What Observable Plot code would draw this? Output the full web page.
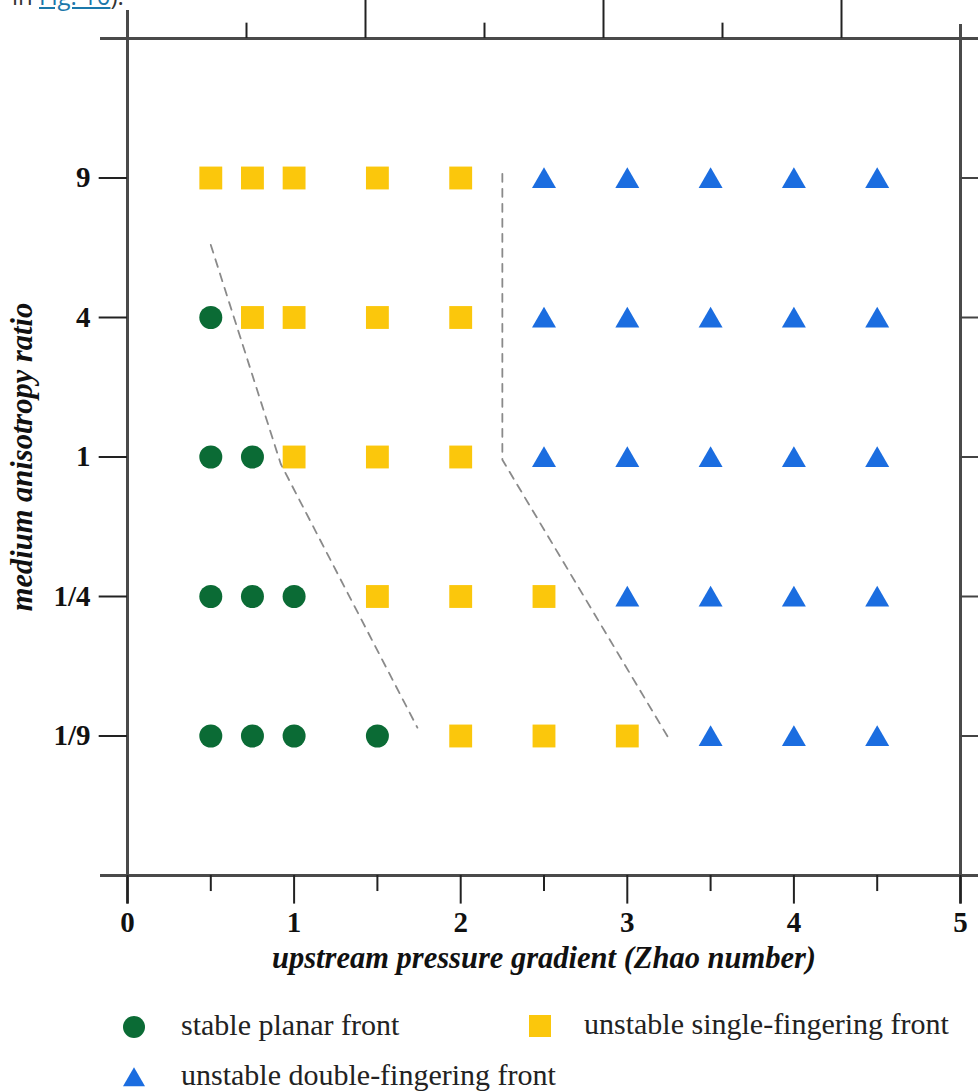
<!DOCTYPE html>
<html>
<head>
<meta charset="utf-8">
<script src="https://cdn.jsdelivr.net/npm/d3@7"></script>
<script src="https://cdn.jsdelivr.net/npm/@observablehq/plot@0.6"></script>
<style>
  html, body { margin: 0; padding: 0; background: #fff; }
  #wrap { position: relative; width: 978px; height: 1091px; overflow: hidden; }
  #topnote { position: absolute; left: 12px; top: -16px; font-family: "Open Sans", sans-serif; font-size: 24px; line-height: 24px; color: #333; white-space: nowrap; }
  #topnote a { color: #1b78ab; text-decoration: underline; }
  #chart { position: absolute; left: 0; top: 0; }
  .leg { position: absolute; font-family: "Liberation Serif", "Times New Roman", serif; font-size: 30px; color: #222; line-height: 30px; white-space: nowrap; }
  .sym { position: absolute; }
</style>
</head>
<body>
<div id="wrap">
  <div id="chart"></div>
  <div id="topnote">in <a>Fig. 10</a>).</div>
  <div id="legend"></div>
</div>
<script>
// ---- data ----
const ratioLabels = ["1/9", "1/4", "1", "4", "9"];          // bottom to top
const xTicks = [0, 1, 2, 3, 4, 5];
const xMinorTicks = [0.5, 1.5, 2.5, 3.5, 4.5];
const stableZhao = {"1/9": [0.5, 0.75, 1, 1.5], "1/4": [0.5, 0.75, 1], "1": [0.5, 0.75], "4": [0.5], "9": []};
const singleZhao = {"1/9": [2, 2.5, 3], "1/4": [1.5, 2, 2.5], "1": [1, 1.5, 2], "4": [0.75, 1, 1.5, 2], "9": [0.5, 0.75, 1, 1.5, 2]};
const doubleZhao = {"1/9": [3.5, 4, 4.5], "1/4": [3, 3.5, 4, 4.5], "1": [2.5, 3, 3.5, 4, 4.5], "4": [2.5, 3, 3.5, 4, 4.5], "9": [2.5, 3, 3.5, 4, 4.5]};
const boundary1Zhao = [0.5, 0.92, 1.74];
const boundary1Level = [4.52, 2.95, 1.06];
const boundary2Zhao = [2.25, 2.25, 3.25];
const boundary2Level = [5.03, 2.98, 0.98];
const topTicks = [1, 2, 3, 4, 5, 6];   // unlabeled top scale in sevenths
const xLabel = "upstream pressure gradient (Zhao number)";
const yLabel = "medium anisotropy ratio";
const legendLabels = ["stable planar front", "unstable single-fingering front", "unstable double-fingering front"];
const colors = {stable: "#0b6b35", single: "#fbc70c", double: "#1b6de0"};

// ---- build tables ----
const level = r => ratioLabels.indexOf(r) + 1;
function rows(obj) {
  const out = [];
  for (const r of ratioLabels) for (const z of obj[r]) out.push({zhao: z, level: level(r)});
  return out;
}
const stable = rows(stableZhao), single = rows(singleZhao), dbl = rows(doubleZhao);
const b1 = boundary1Zhao.map((z, i) => ({zhao: z, level: boundary1Level[i]}));
const b2 = boundary2Zhao.map((z, i) => ({zhao: z, level: boundary2Level[i]}));
const levels = ratioLabels.map((r, i) => ({label: r, level: i + 1}));

const H = 990;
const axisColor = "#4a4a4a";
const serif = "'Liberation Serif', 'Times New Roman', serif";

const chart = Plot.plot({
  width: 978, height: H,
  marginLeft: 127, marginRight: 18, marginTop: 38, marginBottom: H - 875,
  x: {domain: [0, 5], axis: null},
  y: {domain: [0, 6], axis: null},
  style: {overflow: "visible", background: "transparent"},
  marks: [
    // frame
    Plot.ruleY([6], {x1: -0.162, x2: 5.11, stroke: axisColor, strokeWidth: 3}),
    Plot.ruleY([0], {x1: -0.162, x2: 5.11, stroke: axisColor, strokeWidth: 3}),
    Plot.ruleX([0], {y1: -0.205, y2: 6.2, stroke: axisColor, strokeWidth: 3}),
    Plot.ruleX([5], {y1: -0.205, y2: 6.1, stroke: axisColor, strokeWidth: 3}),
    // top ticks (sevenths)
    Plot.ruleX(topTicks, {x: d => d * 5 / 7, y1: 6, y2: d => d % 2 === 0 ? 6.3 : 6.11, stroke: "#222", strokeWidth: 2}),
    // bottom ticks
    Plot.ruleX(xTicks, {y1: 0, y2: -0.205, stroke: "#222", strokeWidth: 2}),
    Plot.ruleX(xMinorTicks, {y1: 0, y2: -0.115, stroke: "#222", strokeWidth: 2}),
    // left & right ticks
    Plot.ruleY(levels, {y: "level", x1: -0.17, x2: 0, stroke: "#222", strokeWidth: 2}),
    Plot.ruleY(levels, {y: "level", x1: 5, x2: 5.11, stroke: "#444", strokeWidth: 2}),
    // tick labels
    Plot.text(levels, {x: 0, y: "level", text: "label", dx: -37, textAnchor: "end", fontSize: 29, fontWeight: "bold", fontFamily: serif, fill: "#111"}),
    Plot.text(xTicks, {x: d => d, y: 0, text: d => String(d), dy: 47, fontSize: 29, fontWeight: "bold", fontFamily: serif, fill: "#111"}),
    // axis labels
    Plot.text([xLabel], {x: 2.5, y: 0, text: d => d, dy: 83, fontSize: 30.5, fontWeight: "bold", fontStyle: "italic", fontFamily: serif, fill: "#111"}),
    Plot.text([yLabel], {x: 0, y: 3, text: d => d, dx: -105, rotate: -90, fontSize: 30.5, fontWeight: "bold", fontStyle: "italic", fontFamily: serif, fill: "#111"}),
    // boundaries
    Plot.line(b1, {x: "zhao", y: "level", stroke: "#8a8a8a", strokeWidth: 1.8, strokeDasharray: "8,7"}),
    Plot.line(b2, {x: "zhao", y: "level", stroke: "#8a8a8a", strokeWidth: 1.8, strokeDasharray: "8,7"}),
    // markers
    Plot.dot(stable, {x: "zhao", y: "level", symbol: "circle", r: 11.5, fill: colors.stable}),
    Plot.dot(single, {x: "zhao", y: "level", symbol: "square", r: 12.9, fill: colors.single}),
    Plot.dot(dbl, {x: "zhao", y: "level", symbol: "triangle", r: 8.9, dy: 3, fill: colors.double})
  ]
});
document.getElementById("chart").appendChild(chart);

// ---- legend ----
const legend = document.getElementById("legend");
const items = [
  {sym: "circle", color: colors.stable, cx: 134, cy: 1027, tx: 181, label: legendLabels[0]},
  {sym: "square", color: colors.single, cx: 540, cy: 1026, tx: 584, label: legendLabels[1]},
  {sym: "triangle", color: colors.double, cx: 134, cy: 1077, tx: 181, label: legendLabels[2]}
];
for (const it of items) {
  const s = d3.create("svg").attr("class", "sym").attr("width", 30).attr("height", 30)
    .style("left", (it.cx - 15) + "px").style("top", (it.cy - 15) + "px");
  const size = it.sym === "circle" ? Math.PI * 11 * 11 : it.sym === "square" ? 22 * 22 : Math.sqrt(3) / 4 * 22 * 22;
  const type = it.sym === "circle" ? d3.symbolCircle : it.sym === "square" ? d3.symbolSquare : d3.symbolTriangle;
  s.append("path").attr("transform", it.sym === "triangle" ? "translate(15,18)" : "translate(15,15)").attr("d", d3.symbol(type, size)()).attr("fill", it.color);
  legend.appendChild(s.node());
  const t = document.createElement("div");
  t.className = "leg";
  t.textContent = it.label;
  t.style.left = it.tx + "px";
  t.style.top = (it.cy - 17) + "px";
  legend.appendChild(t);
}
</script>
</body>
</html>
